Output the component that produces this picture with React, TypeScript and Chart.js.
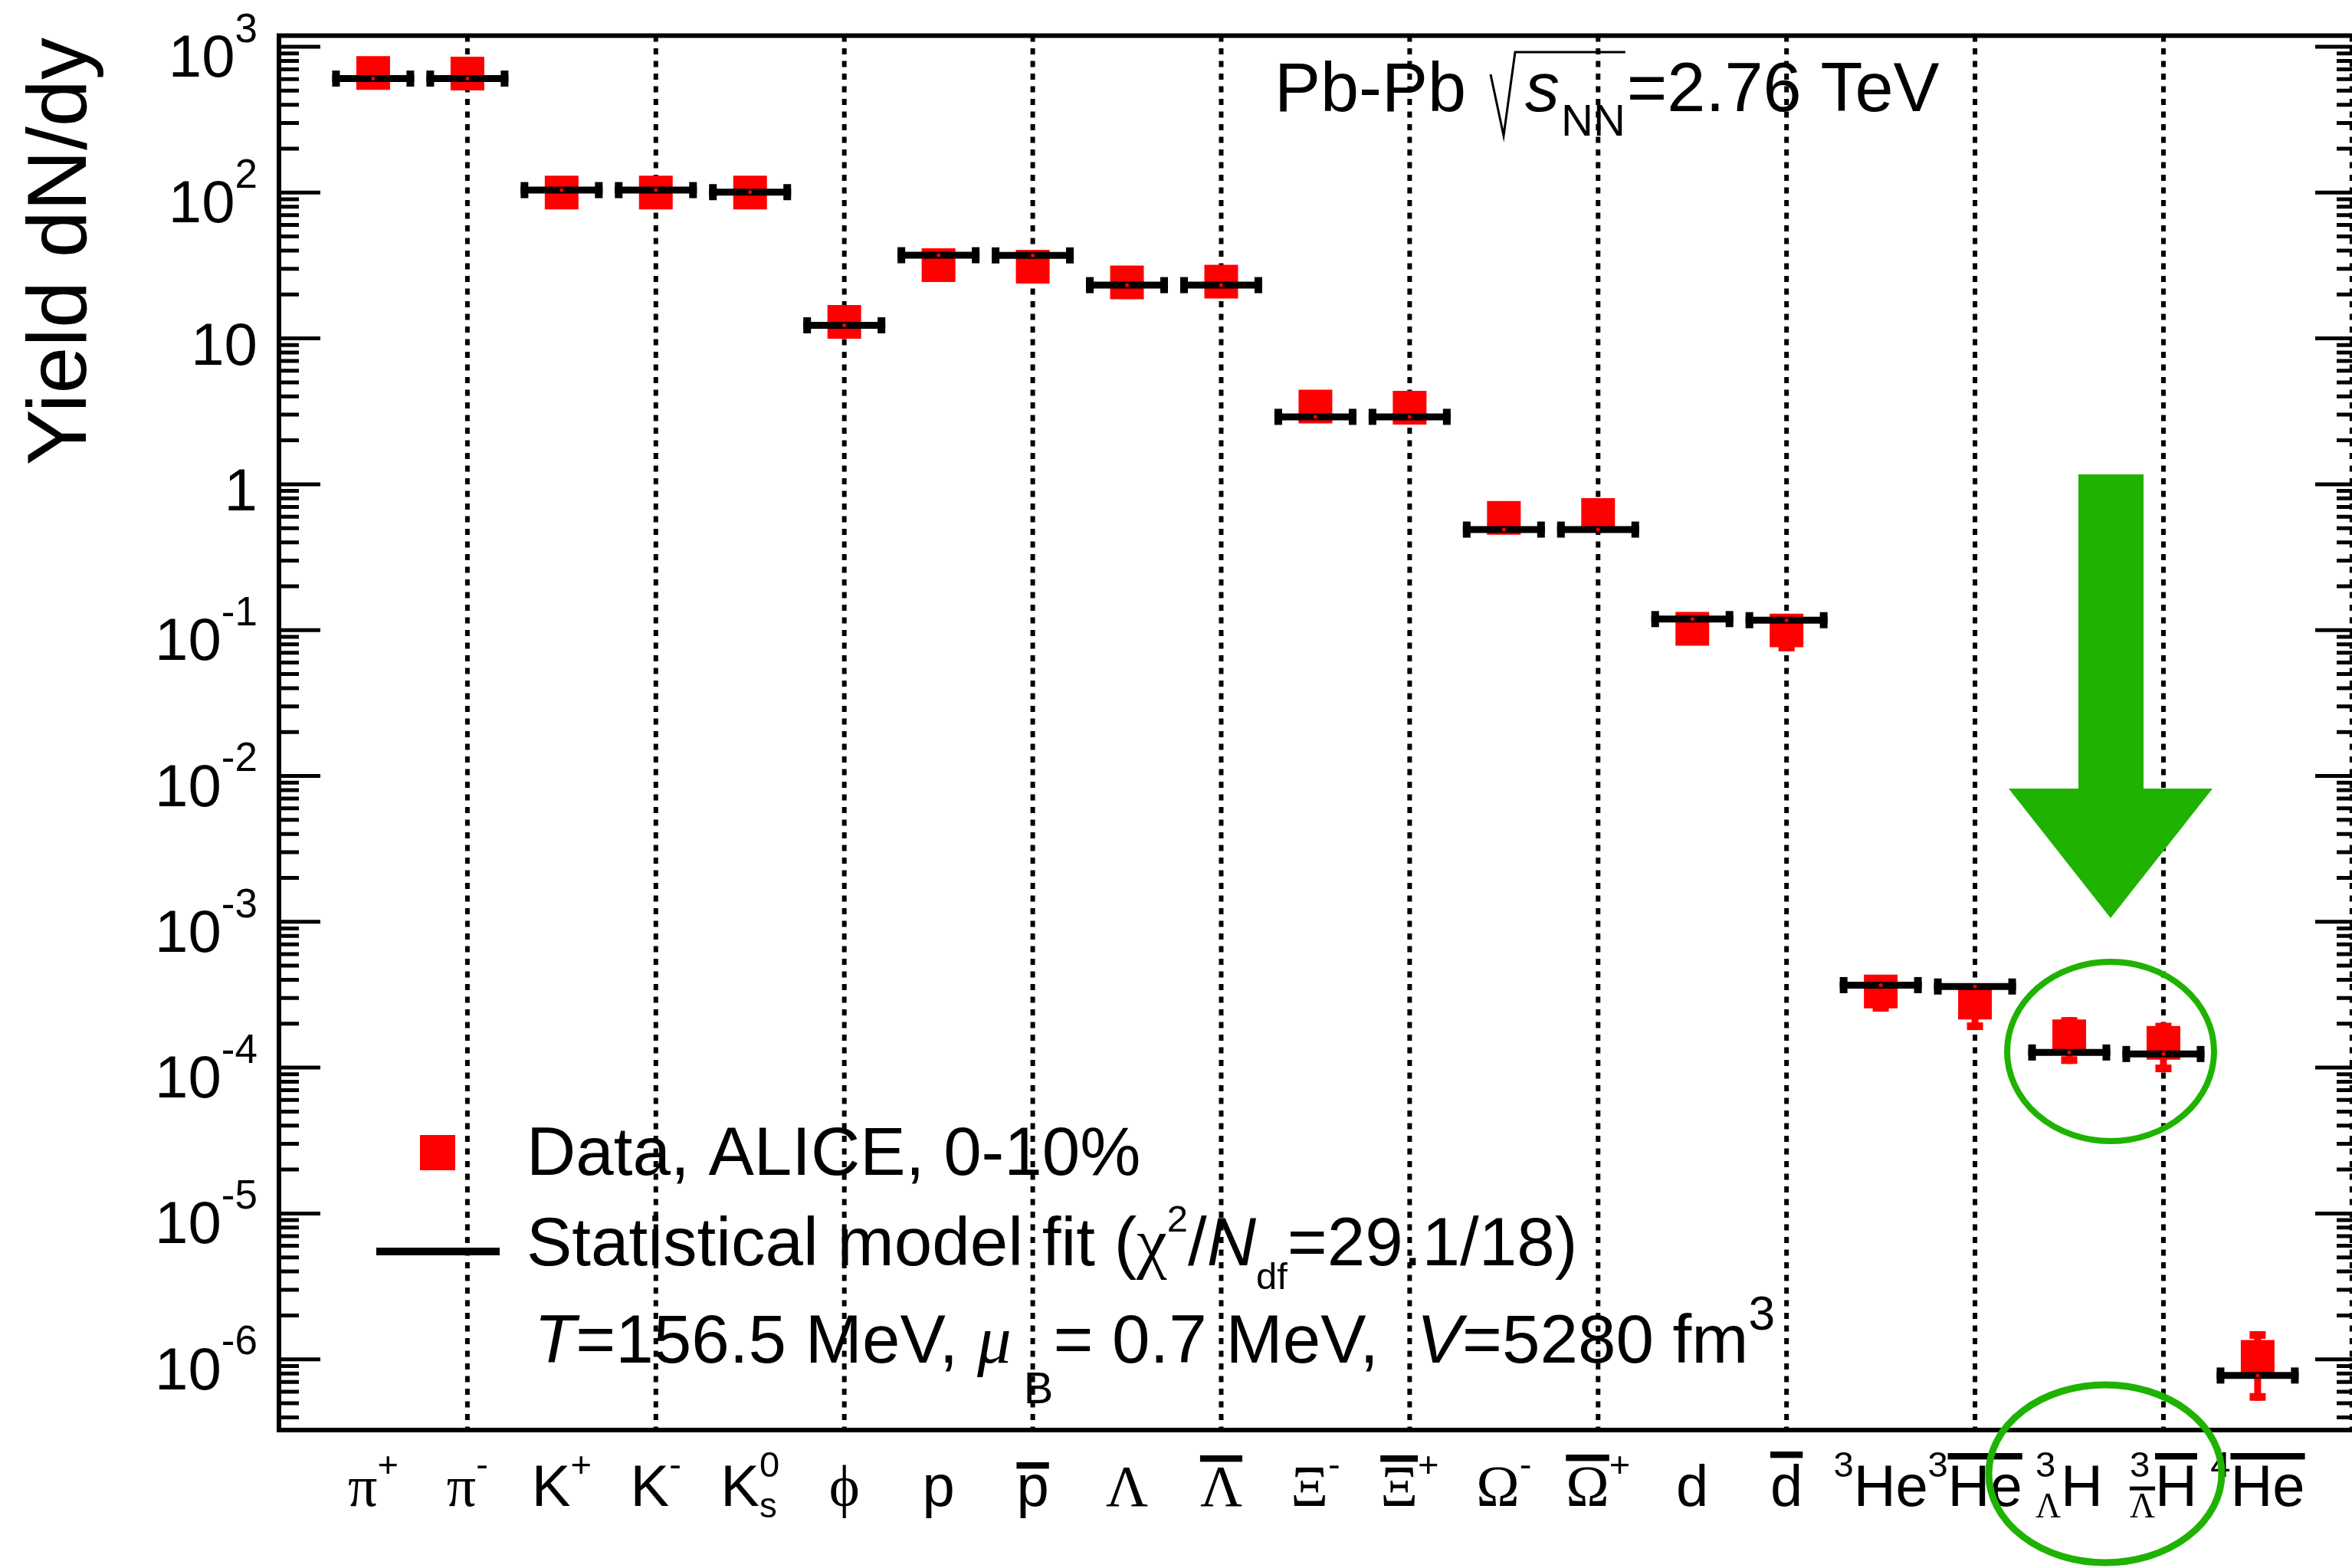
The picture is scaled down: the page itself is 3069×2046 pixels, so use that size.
import React, { useEffect, useRef } from "react";
import { Chart, registerables } from "chart.js";

Chart.register(...registerables);

// ---------------- data ----------------
const categories = ["π+", "π-", "K+", "K-", "K0s", "φ", "p", "p̄", "Λ", "Λ̄", "Ξ-", "Ξ̄+", "Ω-", "Ω̄+", "d", "d̄", "3He", "3He̅", "3ΛH", "3Λ̄H̄", "4He̅"];
const categoryLabels = [
  "π^{+}", "π^{-}", "K^{+}", "K^{-}", "K^{0}_{s}", "ϕ", "p", "#bar{p}", "Λ", "#bar{Λ}",
  "Ξ^{-}", "#bar{Ξ}^{+}", "Ω^{-}", "#bar{Ω}^{+}", "d", "#bar{d}", "^{3}He", "^{3}#bar{He}",
  "^{3}_{Λ}H", "^{3}_{#bar{Λ}}#bar{H}", "^{4}#bar{He}",
];
const modelYield = [605, 605, 104, 104, 100.7, 12.3, 37.2, 37.1, 23.2, 23.2, 2.9, 2.9, 0.489, 0.489, 0.119, 0.117, 3.68e-4, 3.6e-4, 1.27e-4, 1.24e-4, 7.74e-7];
const dataYield = [660, 655, 100, 100, 100, 13.0, 31.8, 31.0, 24.2, 24.5, 3.41, 3.35, 0.589, 0.615, 0.102, 0.0995, 3.33e-4, 2.79e-4, 1.64e-4, 1.48e-4, 1.04e-6];
const dataError = [40, 40, 8, 8, 7, 1.4, 2.5, 2.5, 2.2, 2.2, 0.25, 0.25, 0.08, 0.08, 0.015, 0.028, 0.91e-4, 0.98e-4, 0.58e-4, 0.55e-4, 0.52e-6];
const yTickValues = [1e3, 1e2, 10, 1, 1e-1, 1e-2, 1e-3, 1e-4, 1e-5, 1e-6];
const yTickLabels = ["10^{3}", "10^{2}", "10", "1", "10^{-1}", "10^{-2}", "10^{-3}", "10^{-4}", "10^{-5}", "10^{-6}"];
const gridCategoryIndices = [1, 3, 5, 7, 9, 11, 13, 15, 17, 19, 21];
const yAxisTitle = "Yield dN/dy";
const titleParts = ["Pb-Pb", "s", "NN", "=2.76 TeV"];
const legendData = "Data, ALICE, 0-10%";
const legendModel = "Statistical model fit (χ^{2}/#it{N}_{df}=29.1/18)";
const legendParams = "#it{T}=156.5 MeV, #it{μ}_{ B}= 0.7 MeV,  #it{V}=5280 fm^{3}";

const X_MIN = -1;
const X_MAX = 21.05;
const Y_MIN = 3.273e-7;
const Y_MAX = 1192;
const MODEL_HALF = 0.435;

// ---------------- rich text ----------------
type RNode = { t: "text"; s: string } | { t: "sup" | "sub" | "bar" | "it"; c: RNode[] };

function parseRich(src: string): RNode[] {
  let i = 0;
  const seq = (inBrace: boolean): RNode[] => {
    const out: RNode[] = [];
    let buf = "";
    const flush = () => {
      if (buf) out.push({ t: "text", s: buf });
      buf = "";
    };
    while (i < src.length) {
      const ch = src[i];
      if (ch === "}" && inBrace) {
        i++;
        flush();
        return out;
      }
      if ((ch === "^" || ch === "_") && src[i + 1] === "{") {
        flush();
        i += 2;
        out.push({ t: ch === "^" ? "sup" : "sub", c: seq(true) });
        continue;
      }
      if (src.startsWith("#bar{", i)) {
        flush();
        i += 5;
        out.push({ t: "bar", c: seq(true) });
        continue;
      }
      if (src.startsWith("#it{", i)) {
        flush();
        i += 4;
        out.push({ t: "it", c: seq(true) });
        continue;
      }
      buf += ch;
      i++;
    }
    flush();
    return out;
  };
  return seq(false);
}

interface RStyle {
  sans: string;
  serif: string;
  supScale: number;
  supRise: number;
  subScale: number;
  subDrop: number;
  barGap: number;
  barThick: number;
}

const GREEK = /[\u0370-\u03FF]/;

function textRuns(s: string) {
  const out: { s: string; greek: boolean }[] = [];
  let cur = "";
  let g: boolean | null = null;
  for (const ch of s) {
    const isG = GREEK.test(ch);
    if (g === null || isG === g) {
      cur += ch;
      g = isG;
    } else {
      out.push({ s: cur, greek: !!g });
      cur = ch;
      g = isG;
    }
  }
  if (cur) out.push({ s: cur, greek: !!g });
  return out;
}

function renderRich(
  ctx: CanvasRenderingContext2D,
  nodes: RNode[],
  x: number,
  y: number,
  size: number,
  italic: boolean,
  st: RStyle,
  draw: boolean
): { w: number; top: number } {
  let cx = x;
  let top = 0;
  for (let i = 0; i < nodes.length; i++) {
    const n = nodes[i];
    if (n.t === "text") {
      for (const r of textRuns(n.s)) {
        ctx.font = `${italic ? "italic " : ""}${size}px ${r.greek ? st.serif : st.sans}`;
        const m = ctx.measureText(r.s);
        if (draw) ctx.fillText(r.s, cx, y);
        cx += m.width;
        top = Math.max(top, m.actualBoundingBoxAscent);
      }
    } else if (n.t === "it") {
      const res = renderRich(ctx, n.c, cx, y, size, true, st, draw);
      cx += res.w;
      top = Math.max(top, res.top);
    } else if (n.t === "bar") {
      const res = renderRich(ctx, n.c, cx, y, size, italic, st, draw);
      const th = size * st.barThick;
      const gap = size * st.barGap;
      if (draw) ctx.fillRect(cx, y - res.top - gap - th, res.w, th);
      cx += res.w;
      top = Math.max(top, res.top + gap + th);
    } else {
      const next = nodes[i + 1];
      const pair = next && (next.t === "sup" || next.t === "sub") && next.t !== n.t ? next : null;
      let w = 0;
      const list = pair ? [n, pair] : [n];
      for (const s of list) {
        const isSup = s.t === "sup";
        const ss = size * (isSup ? st.supScale : st.subScale);
        const yy = isSup ? y - size * st.supRise : y + size * st.subDrop;
        const res = renderRich(ctx, (s as any).c, cx, yy, ss, italic, st, draw);
        w = Math.max(w, res.w);
        top = Math.max(top, isSup ? res.top + size * st.supRise : res.top - size * st.subDrop);
      }
      cx += w;
      if (pair) i++;
    }
  }
  return { w: cx - x, top };
}

const SANS = "'Liberation Sans', Arial, Helvetica, sans-serif";
const SERIF = "'Liberation Serif', 'DejaVu Serif', serif";

const xLabelStyle: RStyle = { sans: SANS, serif: SERIF, supScale: 0.62, supRise: 0.5, subScale: 0.6, subDrop: 0.2, barGap: 0.1, barThick: 0.11 };
const yLabelStyle: RStyle = { sans: SANS, serif: SERIF, supScale: 0.68, supRise: 0.58, subScale: 0.6, subDrop: 0.2, barGap: 0.1, barThick: 0.1 };
const legendStyle2: RStyle = { sans: SANS, serif: SERIF, supScale: 0.55, supRise: 0.5, subScale: 0.55, subDrop: 0.35, barGap: 0.1, barThick: 0.1 };
const legendStyle3: RStyle = { sans: SANS, serif: SERIF, supScale: 0.7, supRise: 0.48, subScale: 0.65, subDrop: 0.6, barGap: 0.1, barThick: 0.1 };

const GREEN = "#1FB200";

const yieldPlugin = {
  id: "yieldPlugin",
  beforeDraw(chart: any) {
    const ctx = chart.ctx as CanvasRenderingContext2D;
    ctx.save();
    ctx.fillStyle = "#fff";
    ctx.fillRect(0, 0, chart.width, chart.height);
    ctx.restore();
  },
  beforeDatasetsDraw(chart: any) {
    const ctx = chart.ctx as CanvasRenderingContext2D;
    const xs = chart.scales.x;
    const ys = chart.scales.y;
    const a = chart.chartArea;
    ctx.save();
    // dotted grid lines
    ctx.strokeStyle = "#000";
    ctx.lineWidth = 6;
    ctx.setLineDash([8, 8.5]);
    for (const gi of gridCategoryIndices) {
      const x = xs.getPixelForValue(gi);
      ctx.beginPath();
      ctx.moveTo(x, a.top);
      ctx.lineTo(x, a.bottom);
      ctx.stroke();
    }
    ctx.setLineDash([]);
    // data error bars
    ctx.fillStyle = "#ff0000";
    dataYield.forEach((v, i) => {
      const e = dataError[i];
      const x = xs.getPixelForValue(i);
      const yHi = ys.getPixelForValue(v + e);
      const yLo = ys.getPixelForValue(Math.max(v - e, Y_MIN));
      ctx.fillRect(x - 4.5, yHi, 9, yLo - yHi);
      ctx.fillRect(x - 10.5, yHi, 21, 10);
      ctx.fillRect(x - 10.5, yLo - 10, 21, 10);
    });
    ctx.restore();
  },
  afterDatasetsDraw(chart: any) {
    const ctx = chart.ctx as CanvasRenderingContext2D;
    const xs = chart.scales.x;
    const ys = chart.scales.y;
    const a = chart.chartArea;
    ctx.save();
    ctx.textBaseline = "alphabetic";
    ctx.textAlign = "left";

    // model bar end caps and centre dots
    modelYield.forEach((v, i) => {
      const xl = xs.getPixelForValue(i - MODEL_HALF);
      const xr = xs.getPixelForValue(i + MODEL_HALF);
      const y = ys.getPixelForValue(v);
      ctx.fillStyle = "#000";
      ctx.fillRect(xl, y - 10.5, 10, 21);
      ctx.fillRect(xr - 10, y - 10.5, 10, 21);
      ctx.fillStyle = "#ff0000";
      ctx.beginPath();
      ctx.arc(xs.getPixelForValue(i), y, 2.5, 0, Math.PI * 2);
      ctx.fill();
    });

    // frame
    ctx.strokeStyle = "#000";
    ctx.lineWidth = 6;
    ctx.strokeRect(a.left, a.top, a.right - a.left, a.bottom - a.top);

    // y ticks (log)
    ctx.lineWidth = 5;
    for (let k = -7; k <= 3; k++) {
      for (let m = 1; m <= 9; m++) {
        const v = m * Math.pow(10, k);
        if (v < Y_MIN || v > Y_MAX) continue;
        const y = ys.getPixelForValue(v);
        const len = m === 1 ? 54 : 26;
        ctx.beginPath();
        ctx.moveTo(a.left, y);
        ctx.lineTo(a.left + len, y);
        ctx.moveTo(a.right, y);
        ctx.lineTo(a.right - len, y);
        ctx.stroke();
      }
    }

    // y tick labels
    ctx.fillStyle = "#000";
    yTickValues.forEach((v, i) => {
      const nodes = parseRich(yTickLabels[i]);
      const hasSup = yTickLabels[i].includes("^");
      const y = ys.getPixelForValue(v) + (hasSup ? 39 : 34);
      const m = renderRich(ctx, nodes, 0, y, 78, false, yLabelStyle, false);
      renderRich(ctx, nodes, 336 - m.w, y, 78, false, yLabelStyle, true);
    });

    // x category labels
    categoryLabels.forEach((lab, i) => {
      const nodes = parseRich(lab);
      const x = xs.getPixelForValue(i);
      const m = renderRich(ctx, nodes, 0, 1965, 76, false, xLabelStyle, false);
      renderRich(ctx, nodes, x - m.w / 2, 1965, 76, false, xLabelStyle, true);
    });

    // y axis title
    ctx.save();
    ctx.translate(112, 49);
    ctx.rotate(-Math.PI / 2);
    ctx.font = `110px ${SANS}`;
    ctx.textAlign = "right";
    ctx.fillText(yAxisTitle, 0, 0);
    ctx.restore();

    // title: Pb-Pb sqrt(s_NN)=2.76 TeV
    ctx.font = `90px ${SANS}`;
    ctx.fillText(titleParts[0], 1663, 145);
    const rx = 1945;
    const sx = rx + 45;
    ctx.font = `italic 90px ${SANS}`;
    ctx.fillText(titleParts[1], sx, 145);
    const sw = ctx.measureText(titleParts[1]).width;
    ctx.font = `58px ${SANS}`;
    const nnX = sx + sw + 2;
    ctx.fillText(titleParts[2], nnX, 177);
    const nnEnd = nnX + ctx.measureText(titleParts[2]).width;
    ctx.lineWidth = 3;
    ctx.beginPath();
    ctx.moveTo(rx, 97);
    ctx.lineTo(rx + 17, 177);
    ctx.lineTo(rx + 32, 68);
    ctx.lineTo(nnEnd, 68);
    ctx.stroke();
    ctx.font = `90px ${SANS}`;
    ctx.fillText(titleParts[3], nnEnd + 2, 145);

    // legend
    ctx.fillStyle = "#ff0000";
    ctx.fillRect(548, 1481, 46, 46);
    ctx.fillStyle = "#000";
    ctx.font = `89px ${SANS}`;
    ctx.fillText(legendData, 687, 1533);
    ctx.lineWidth = 10;
    ctx.beginPath();
    ctx.moveTo(491, 1633);
    ctx.lineTo(652, 1633);
    ctx.stroke();
    renderRich(ctx, parseRich(legendModel), 687, 1651, 89, false, legendStyle2, true);
    renderRich(ctx, parseRich(legendParams), 697, 1778, 89, false, legendStyle3, true);

    // green annotations
    ctx.fillStyle = GREEN;
    ctx.beginPath();
    ctx.moveTo(2712, 619);
    ctx.lineTo(2797, 619);
    ctx.lineTo(2797, 1029);
    ctx.lineTo(2887, 1029);
    ctx.lineTo(2754, 1198);
    ctx.lineTo(2621, 1029);
    ctx.lineTo(2712, 1029);
    ctx.closePath();
    ctx.fill();
    ctx.strokeStyle = GREEN;
    ctx.lineWidth = 8;
    ctx.beginPath();
    ctx.ellipse(2754, 1372, 135, 117, 0, 0, Math.PI * 2);
    ctx.stroke();
    ctx.lineWidth = 9;
    ctx.beginPath();
    ctx.ellipse(2747, 1923, 152, 116, 0, 0, Math.PI * 2);
    ctx.stroke();

    ctx.restore();
  },
};

export default function App() {
  const ref = useRef<HTMLCanvasElement>(null);
  useEffect(() => {
    document.body.style.margin = "0";
    const canvas = ref.current!;
    const chart = new Chart(canvas, {
      type: "scatter",
      data: {
        labels: categories,
        datasets: [
          {
            label: "Statistical model fit",
            data: modelYield.map((v, i) => ({ x: i, y: v })),
            pointStyle: "line",
            borderColor: "#000",
            backgroundColor: "#000",
            borderWidth: 9,
            radius: (c: any) => {
              const s = c.chart.scales.x;
              return Math.abs(s.getPixelForValue(MODEL_HALF) - s.getPixelForValue(0));
            },
            order: 0,
          } as any,
          {
            label: "Data, ALICE, 0-10%",
            data: dataYield.map((v, i) => ({ x: i, y: v })),
            pointStyle: "rect",
            backgroundColor: "#ff0000",
            borderColor: "#ff0000",
            borderWidth: 0,
            radius: 31.1,
            order: 1,
          } as any,
        ],
      },
      options: {
        responsive: false,
        animation: false,
        devicePixelRatio: 1,
        events: [],
        layout: { autoPadding: false, padding: { left: 364, top: 46.5, right: 5, bottom: 180 } },
        scales: {
          x: { type: "linear", min: X_MIN, max: X_MAX, display: false },
          y: { type: "logarithmic", min: Y_MIN, max: Y_MAX, display: false },
        },
        plugins: { legend: { display: false }, tooltip: { enabled: false } },
      },
      plugins: [yieldPlugin],
    } as any);
    return () => chart.destroy();
  }, []);
  return (
    <div style={{ position: "absolute", left: 0, top: 0, width: 3069, height: 2046, overflow: "hidden", background: "#fff" }}>
      <canvas ref={ref} width={3080} height={2046} style={{ display: "block", width: 3080, height: 2046 }} />
    </div>
  );
}
